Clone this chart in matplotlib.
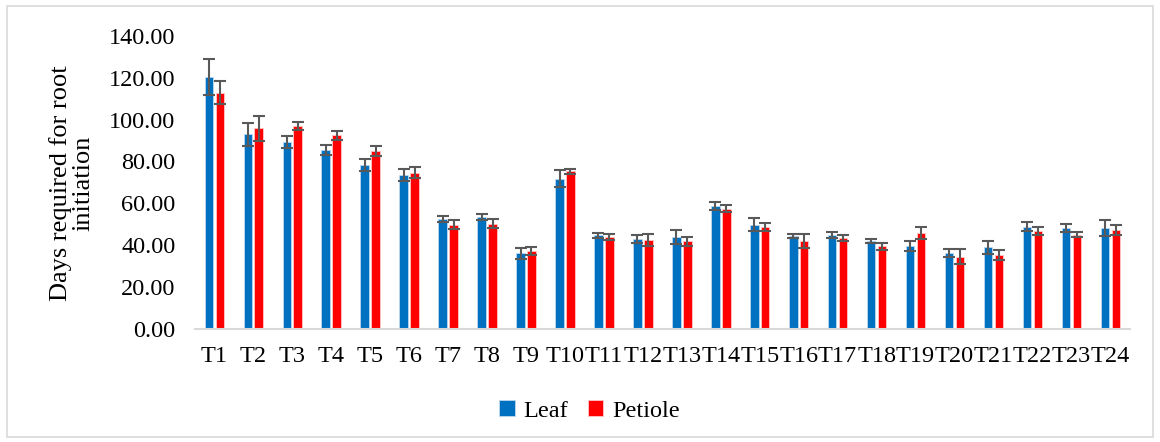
import numpy as np
import matplotlib.pyplot as plt

treatments = ['T%d' % i for i in range(1, 25)]
leaf = [120.4, 92.9, 89.3, 85.4, 78.3, 73.4, 52.5, 53.5, 36.1, 71.8, 44.7, 43.0,
        43.8, 58.6, 49.8, 44.4, 44.9, 42.0, 39.5, 36.1, 39.0, 48.8, 48.1, 48.2]
leaf_err = [8.5, 5.4, 3.0, 2.4, 3.0, 3.0, 1.3, 1.6, 2.6, 4.1, 1.1, 2.0,
            3.5, 1.9, 3.0, 0.9, 1.3, 1.0, 2.5, 1.9, 3.1, 2.1, 2.0, 3.7]
petiole = [112.8, 95.8, 97.0, 92.4, 84.8, 74.6, 49.8, 50.3, 37.2, 75.3, 43.8, 42.5,
           41.9, 57.4, 48.8, 42.0, 43.6, 39.5, 45.8, 34.5, 35.3, 46.8, 45.0, 47.3]
petiole_err = [5.5, 6.0, 1.8, 2.3, 2.4, 2.6, 2.1, 2.2, 2.1, 1.2, 1.5, 3.0,
               2.2, 1.6, 1.9, 3.3, 1.4, 1.6, 3.0, 3.5, 2.4, 1.9, 1.2, 2.5]

plt.rcParams['font.family'] = ['Liberation Serif', 'DejaVu Serif']

fig = plt.figure(figsize=(11.6, 4.42), dpi=100)
ax = fig.add_axes([0.168, 0.256, 0.806, 0.663])

x = np.arange(len(treatments))
w = 0.22
ekw = dict(ecolor='#595959', elinewidth=1.5, capsize=4, capthick=1.5)
ax.bar(x - 0.14, leaf, w, yerr=leaf_err, color='#0070C0', edgecolor='#BDD7EE', linewidth=0.6,
       error_kw=ekw, label='Leaf')
ax.bar(x + 0.14, petiole, w, yerr=petiole_err, color='#FF0000', edgecolor='#FFC7C7', linewidth=0.6,
       error_kw=ekw, label='Petiole')

ax.set_xlim(-0.5, len(treatments) - 0.5)
ax.set_ylim(0, 140)
ax.set_yticks(np.arange(0, 141, 20))
ax.set_yticklabels(['%.2f' % v for v in np.arange(0, 141, 20)], fontsize=17.5)
ax.set_xticks(x)
ax.set_xticklabels(treatments, fontsize=17.5)
ax.tick_params(axis='both', length=0)
ax.tick_params(axis='x', pad=12)
ax.tick_params(axis='y', pad=14)
for s in ['top', 'right', 'left']:
    ax.spines[s].set_visible(False)
ax.spines['bottom'].set_color('#D9D9D9')
ax.spines['bottom'].set_linewidth(1.5)

fig.text(0.062, 0.585, 'Days required for root\ninitiation', rotation=90, ha='center', va='center',
         fontsize=19, linespacing=1.0)

ax.legend(loc='center', bbox_to_anchor=(0.508, 0.07), bbox_transform=fig.transFigure, ncol=2,
          frameon=False, fontsize=17.5, handlelength=0.65, handleheight=0.65, handletextpad=0.35,
          columnspacing=0.8)

fig.patches.append(plt.Rectangle((0.006, 0.012), 0.988, 0.975, transform=fig.transFigure,
                                 fill=False, edgecolor='#D9D9D9', linewidth=1.2))

fig.savefig('out.png', dpi=100)
